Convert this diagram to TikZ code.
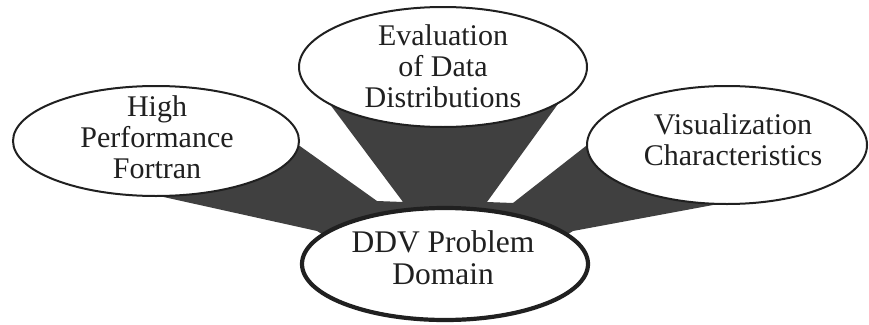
\documentclass[tikz,border=0pt]{standalone}
\usepackage{fontspec}
\setmainfont{Liberation Serif}
\usetikzlibrary{shapes.geometric}
\definecolor{wedgegray}{RGB}{64,64,64}
\definecolor{inkblack}{RGB}{32,32,32}
\begin{document}
\begin{tikzpicture}[x=1pt,y=-1pt,
  bubble/.style={ellipse, draw=inkblack, fill=white, line width=2pt, inner sep=0pt, outer sep=0pt},
  hub/.style={bubble, line width=4.2pt},
  caption/.style={align=center, inner sep=0pt, font=\fontsize{30}{31}\selectfont, text=inkblack},
  wedge/.style={fill=wedgegray, draw=none}]
\useasboundingbox (0,0) rectangle (869,324);
% wedge outline points
\coordinate (w1) at (150,194);
\coordinate (w2) at (317,231);
\coordinate (w3) at (345,248);
\coordinate (w4) at (545,248);
\coordinate (w5) at (573,231);
\coordinate (w6) at (740,200);
\coordinate (w7) at (600,135);
\coordinate (w8) at (513,203);
\coordinate (w9) at (487,202);
\coordinate (w10) at (563,97);
\coordinate (w11) at (326,99);
\coordinate (w12) at (403,202);
\coordinate (w13) at (377,201);
\coordinate (w14) at (290,139);
\fill[wedge] (w1) -- (w2) -- (w3) -- (w4) -- (w5) -- (w6) -- (w7) -- (w8) -- (w9)
  -- (w10) -- (w11) -- (w12) -- (w13) -- (w14) -- cycle;
% ellipses
\node[bubble, minimum width=286pt, minimum height=110pt] (hpf) at (156,141) {};
\node[bubble, minimum width=288pt, minimum height=120pt] (eval) at (443,67) {};
\node[bubble, minimum width=280pt, minimum height=118pt] (vis) at (727,145) {};
\node[hub, minimum width=286pt, minimum height=112pt] (ddv) at (445,264) {};
% texts
\node[caption] (hpftext) at (157,137) {High\\Performance\\Fortran};
\node[caption] (evaltext) at (443,66.5) {Evaluation\\of Data\\Distributions};
\node[caption] (vistext) at (733,140) {Visualization\\Characteristics};
\node[caption, font=\fontsize{31.5}{32}\selectfont] (ddvtext) at (443,258) {DDV Problem\\Domain};
\end{tikzpicture}
\end{document}
